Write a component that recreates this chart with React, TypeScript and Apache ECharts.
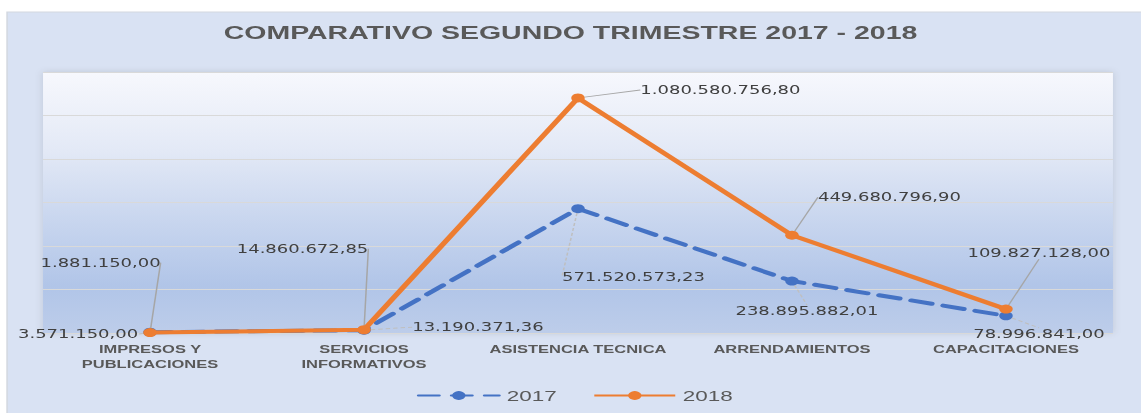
import React, { useEffect, useRef } from "react";
import * as echarts from "echarts";

// ---- data ----
const categories = [
  "IMPRESOS Y\nPUBLICACIONES",
  "SERVICIOS\nINFORMATIVOS",
  "ASISTENCIA TECNICA",
  "ARRENDAMIENTOS",
  "CAPACITACIONES",
];
const values2017 = [3571150.0, 13190371.36, 571520573.23, 238895882.01, 78996841.0];
const values2018 = [1881150.0, 14860672.85, 1080580756.8, 449680796.9, 109827128.0];
const seriesNames = ["2017", "2018"];
const titleText = "COMPARATIVO SEGUNDO TRIMESTRE 2017 - 2018";

// label offsets (dx, dy) from each point, in chart space
const labelOffsets2017 = [[-48, 2], [76, -3], [37, 68], [10, 30], [22, 18]];
const labelOffsets2018 = [[-33, -70], [-41, -81], [95, -8], [65, -38], [22, -56]];

const STRETCH_W = 761;
const FULL_W = 1141;
const FULL_H = 413;

function fmtEs(v: number): string {
  const fixed = v.toFixed(2);
  const [intPart, dec] = fixed.split(".");
  const grouped = intPart.replace(/\B(?=(\d{3})+(?!\d))/g, ".");
  return grouped + "," + dec;
}

export default function App() {
  const ref = useRef<HTMLDivElement>(null);
  useEffect(() => {
    if (!ref.current) return;
    const chart = echarts.init(ref.current, undefined, { renderer: "svg" });
    const labelFont = {
      fontFamily: "DejaVu Sans",
      fontSize: 12,
      color: "#404040",
    };
    chart.setOption({
      animation: false,
      backgroundColor: "transparent",
      graphic: [
        {
          type: "rect",
          shape: { x: 4.7, y: 12, width: STRETCH_W, height: FULL_H },
          style: { fill: "#D9E2F3", stroke: "#D3D8E0", lineWidth: 1 },
          z: -10,
          silent: true,
        },
      ],
      title: {
        text: titleText,
        left: "center",
        top: 18,
        textStyle: {
          fontFamily: "Liberation Sans",
          fontWeight: "bold",
          fontSize: 19,
          color: "#595959",
        },
      },
      legend: {
        data: seriesNames,
        left: 273,
        top: 383,
        itemWidth: 54,
        itemHeight: 11,
        itemGap: 24,
        textStyle: {
          fontFamily: "Liberation Sans",
          fontSize: 15,
          color: "#595959",
        },
      },
      grid: {
        left: 28.7,
        right: 18.7,
        top: 72,
        bottom: 80,
        show: true,
        borderWidth: 0,
        shadowBlur: 6,
        shadowColor: "rgba(0,0,0,0.12)",
        backgroundColor: {
          type: "linear",
          x: 0,
          y: 0,
          x2: 0,
          y2: 1,
          colorStops: [
            { offset: 0, color: "#F7F8FD" },
            { offset: 0.3, color: "#E3E9F6" },
            { offset: 0.55, color: "#CAD7EF" },
            { offset: 0.82, color: "#B1C5E8" },
            { offset: 1, color: "#BDCDEA" },
          ],
        },
      },
      xAxis: {
        type: "category",
        data: categories,
        boundaryGap: true,
        axisLine: { show: false },
        axisTick: { show: false },
        axisLabel: {
          margin: 9,
          interval: 0,
          fontFamily: "Liberation Sans",
          fontWeight: "bold",
          fontSize: 11,
          lineHeight: 15,
          color: "#595959",
        },
      },
      yAxis: {
        type: "value",
        min: 0,
        max: 1200000000,
        interval: 200000000,
        axisLabel: { show: false },
        axisLine: { show: false },
        axisTick: { show: false },
        splitLine: { show: true, lineStyle: { color: "#D9D9D9", width: 1 } },
      },
      series: [
        {
          name: seriesNames[0],
          type: "line",
          data: values2017,
          symbol: "circle",
          symbolSize: 9,
          itemStyle: { color: "#4472C4" },
          lineStyle: { color: "#4472C4", width: 4, type: [14, 8], cap: "round" },
          label: {
            show: true,
            position: "inside",
            formatter: (p: any) => fmtEs(p.value),
            ...labelFont,
          },
          labelLine: {
            show: true,
            lineStyle: { color: "#BFBFBF", width: 1, type: [3, 2] },
          },
          labelLayout: (p: any) => ({
            dx: labelOffsets2017[p.dataIndex][0],
            dy: labelOffsets2017[p.dataIndex][1],
          }),
          z: 2,
        },
        {
          name: seriesNames[1],
          type: "line",
          data: values2018,
          symbol: "circle",
          symbolSize: 9,
          itemStyle: { color: "#ED7D31" },
          lineStyle: { color: "#ED7D31", width: 4 },
          label: {
            show: true,
            position: "inside",
            formatter: (p: any) => fmtEs(p.value),
            ...labelFont,
          },
          labelLine: {
            show: true,
            lineStyle: { color: "#A6A6A6", width: 1 },
          },
          labelLayout: (p: any) => ({
            dx: labelOffsets2018[p.dataIndex][0],
            dy: labelOffsets2018[p.dataIndex][1],
          }),
          z: 3,
        },
      ],
    });
    return () => chart.dispose();
  }, []);

  return (
    <div
      style={{
        position: "fixed",
        left: 0,
        top: 0,
        width: FULL_W,
        height: FULL_H,
        overflow: "hidden",
        background: "#FFFFFF",
      }}
    >
      <div
        ref={ref}
        style={{
          width: STRETCH_W,
          height: FULL_H,
          transform: `scaleX(${FULL_W / STRETCH_W})`,
          transformOrigin: "0 0",
        }}
      />
    </div>
  );
}
